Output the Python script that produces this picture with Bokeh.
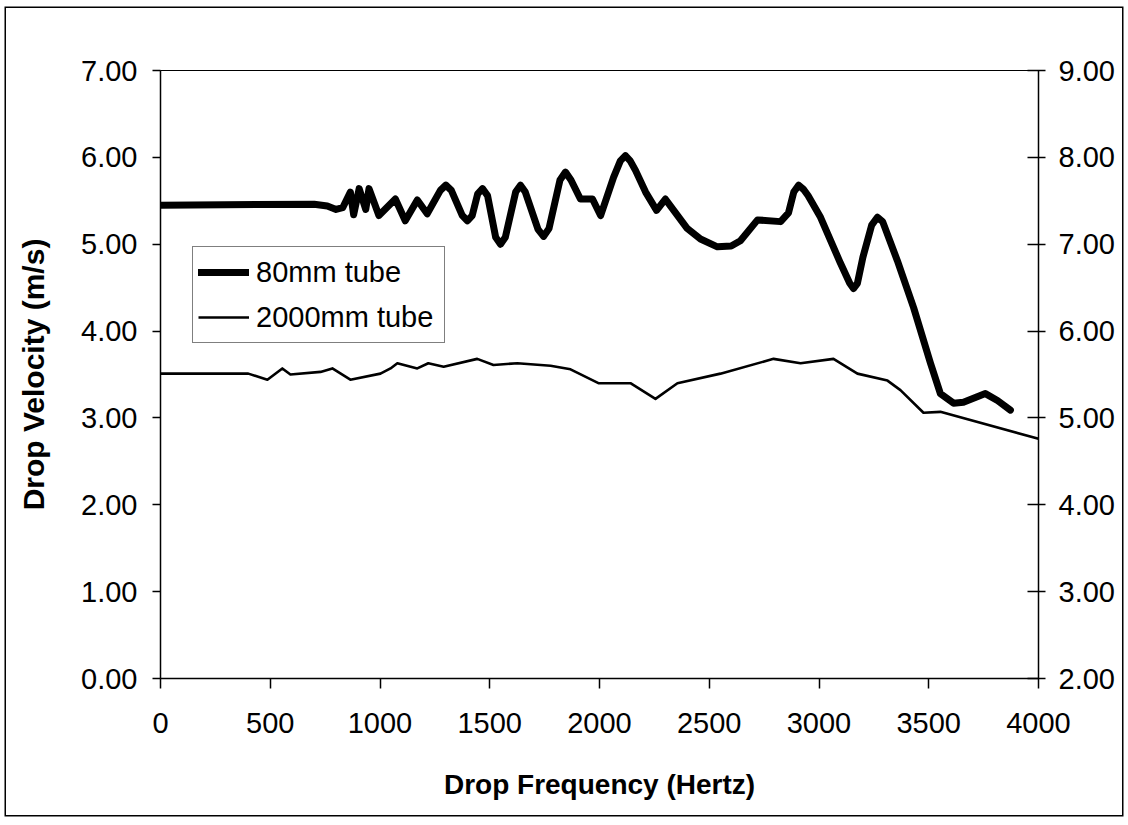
from bokeh.plotting import figure
from bokeh.models import (Range1d, LinearAxis, FixedTicker, NumeralTickFormatter,
                          Legend, LegendItem)
from bokeh.embed import file_html
from bokeh.resources import INLINE

# Drop velocity vs. drop frequency, 80 mm tube (left axis, m/s)
freq_80 = [0, 700, 760, 800, 830, 865, 880, 905, 935, 950, 995, 1070, 1115, 1170,
           1215, 1275, 1300, 1325, 1375, 1398, 1420, 1445, 1467, 1490, 1527, 1549,
           1571, 1618, 1640, 1662, 1720, 1745, 1770, 1820, 1845, 1870, 1913, 1968,
           2005, 2064, 2095, 2118, 2140, 2164, 2210, 2260, 2300, 2400, 2460, 2537,
           2600, 2642, 2720, 2825, 2861, 2885, 2907, 2930, 2950, 3007, 3098, 3140,
           3157, 3175, 3200, 3240, 3266, 3290, 3357, 3431, 3508, 3553, 3613, 3658,
           3758, 3813, 3872]
vel_80 = [5.45, 5.46, 5.44, 5.40, 5.42, 5.60, 5.34, 5.64, 5.40, 5.64, 5.33, 5.52, 5.27, 5.51,
          5.35, 5.62, 5.68, 5.62, 5.33, 5.27, 5.33, 5.58, 5.64, 5.56, 5.08, 5.00,
          5.08, 5.60, 5.68, 5.60, 5.17, 5.09, 5.18, 5.74, 5.83, 5.74, 5.52, 5.52,
          5.33, 5.77, 5.96, 6.02, 5.96, 5.85, 5.60, 5.39, 5.52, 5.18, 5.06, 4.97,
          4.98, 5.04, 5.28, 5.26, 5.36, 5.60, 5.68, 5.63, 5.56, 5.31, 4.78, 4.55,
          4.49, 4.55, 4.85, 5.22, 5.31, 5.26, 4.81, 4.27, 3.63, 3.28, 3.17, 3.18,
          3.28, 3.20, 3.09]

# 2000 mm tube (right axis, m/s)
freq_2000 = [0, 400, 487, 555, 592, 729, 783, 865, 1002, 1048, 1079, 1170, 1220, 1290,
             1443, 1517, 1626, 1777, 1868, 1995, 2141, 2255, 2355, 2551, 2793, 2916,
             3066, 3175, 3312, 3371, 3476, 3553, 4000]
vel_2000 = [5.51, 5.51, 5.44, 5.57, 5.50, 5.53, 5.57, 5.44, 5.51, 5.57, 5.63, 5.57, 5.63, 5.59,
            5.68, 5.61, 5.63, 5.60, 5.56, 5.40, 5.40, 5.22, 5.40, 5.51, 5.68, 5.63,
            5.68, 5.51, 5.43, 5.32, 5.06, 5.07, 4.76]

x_ticks = [0, 500, 1000, 1500, 2000, 2500, 3000, 3500, 4000]
left_ticks = [0, 1, 2, 3, 4, 5, 6, 7]
right_ticks = [2, 3, 4, 5, 6, 7, 8, 9]

FONT = "Liberation Sans"

# the chart sits inside a thin black frame, inset from the page edge
p = figure(width=1116, height=807, output_backend="svg", toolbar_location=None,
           x_range=Range1d(0, 4000), y_range=Range1d(0, 7),
           min_border_left=154, min_border_right=84, min_border_top=62,
           min_border_bottom=137)
p.styles = {"margin": "8px 0 0 6px", "box-shadow": "0 0 0 1.5px black"}
p.extra_y_ranges = {"right": Range1d(2, 9)}

p.xgrid.visible = False
p.ygrid.visible = False
p.outline_line_color = "black"
p.outline_line_width = 1
p.background_fill_color = "white"
p.border_fill_color = "white"

# bottom axis
xa = p.xaxis[0]
xa.ticker = FixedTicker(ticks=x_ticks)
xa.axis_label = "Drop Frequency (Hertz)"
# left axis
ya = p.yaxis[0]
ya.ticker = FixedTicker(ticks=left_ticks)
ya.formatter = NumeralTickFormatter(format="0.00")
ya.axis_label = "Drop Velocity (m/s)"
# right axis
ra = LinearAxis(y_range_name="right", ticker=FixedTicker(ticks=right_ticks),
                formatter=NumeralTickFormatter(format="0.00"))
p.add_layout(ra, "right")

for ax in (xa, ya, ra):
    ax.axis_line_color = "black"
    ax.axis_line_width = 1.5
    ax.major_tick_line_color = "black"
    ax.major_tick_line_width = 1.5
    ax.minor_tick_line_color = None
    ax.major_label_text_font = FONT
    ax.major_label_text_font_size = "29px"
    ax.major_label_text_color = "black"
    ax.axis_label_text_font = FONT
    ax.axis_label_text_font_size = "28px"
    ax.axis_label_text_font_style = "bold"
    ax.axis_label_text_color = "black"

ya.axis_label_text_font_size = "30px"

xa.major_tick_in = 0
xa.major_tick_out = 10
xa.major_label_standoff = 24
xa.axis_label_standoff = 33
ya.major_tick_in = 0
ya.major_tick_out = 8
ya.major_label_standoff = 15
ya.axis_label_standoff = 28
ra.major_tick_in = 11
ra.major_tick_out = 7
ra.major_label_standoff = 13

r80 = p.line(freq_80, vel_80, line_color="black", line_width=7,
             line_join="round", line_cap="round")
r2000 = p.line(freq_2000, vel_2000, y_range_name="right", line_color="black",
               line_width=2.6, line_join="round")

legend = Legend(items=[LegendItem(label="80mm tube", renderers=[r80]),
                       LegendItem(label="2000mm tube", renderers=[r2000])],
                location=(32, 335), glyph_width=51, glyph_height=40,
                label_text_font=FONT, label_text_font_size="29px",
                label_text_color="black", label_width=183,
                label_standoff=7, spacing=5, padding=5, margin=0,
                border_line_color="black", border_line_width=1,
                background_fill_color="white", background_fill_alpha=1)
p.add_layout(legend, "center")

open("out.html", "w").write(file_html(p, INLINE))
